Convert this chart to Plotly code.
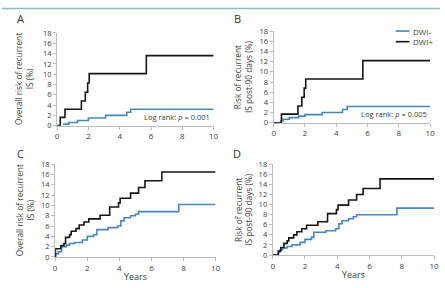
import plotly.graph_objects as go

# Panel A: overall risk (years, %)
a_pos_t = [0, 0.2, 0.5, 1.55, 1.8, 1.95, 2.05, 5.7, 10]
a_pos_y = [0, 1.6, 3.2, 4.8, 6.5, 8.3, 10.1, 13.6, 13.6]
a_neg_t = [0.38, 0.75, 1.3, 2.0, 3.1, 4.45, 4.7, 10]
a_neg_y = [0.3, 0.6, 1.0, 1.5, 2.0, 2.6, 3.2, 3.2]

# Panel B: post-90 days
b_pos_t = [0, 0.5, 1.55, 1.8, 1.95, 2.05, 5.7, 10]
b_pos_y = [0, 1.7, 3.3, 5.0, 6.8, 8.6, 12.2, 12.2]
b_neg_t = [0, 0.45, 0.6, 1.0, 1.6, 2.0, 3.1, 4.4, 4.7, 10]
b_neg_y = [0, 0.4, 0.7, 1.0, 1.3, 1.6, 2.0, 2.6, 3.2, 3.2]

# Panel C
c_pos_t = [0, 0.02, 0.35, 0.55, 0.65, 0.9, 1.0, 1.3, 1.5, 1.8, 2.1, 2.8, 3.4, 3.95, 4.05, 4.7, 5.2, 5.6, 6.65, 10]
c_pos_y = [0, 1.6, 2.2, 2.6, 3.8, 4.3, 5.0, 5.5, 6.2, 6.8, 7.4, 8.1, 9.7, 10.5, 11.4, 12.4, 13.5, 14.8, 16.5, 16.5]
c_neg_t = [0, 0.02, 0.2, 0.4, 0.7, 0.9, 1.2, 1.7, 2.0, 2.4, 2.6, 3.3, 3.9, 4.1, 4.3, 4.7, 5.0, 5.2, 7.7, 10]
c_neg_y = [0, 0.6, 1.0, 2.0, 2.3, 2.6, 2.8, 3.3, 4.0, 4.3, 5.3, 5.7, 6.0, 7.0, 7.6, 8.0, 8.3, 8.8, 10.2, 10.2]

# Panel D
d_pos_t = [0, 0.3, 0.35, 0.5, 0.7, 0.9, 1.0, 1.3, 1.5, 1.8, 2.1, 2.8, 3.4, 3.95, 4.05, 4.7, 5.2, 5.6, 6.65, 10]
d_pos_y = [0, 0, 0.8, 1.5, 2.3, 2.8, 3.4, 4.0, 4.6, 5.2, 5.9, 6.6, 8.2, 9.0, 9.9, 10.9, 12.0, 13.2, 15.1, 15.1]
d_neg_t = [0, 0.3, 0.35, 0.45, 0.6, 0.9, 1.2, 1.7, 2.0, 2.4, 2.55, 3.3, 3.9, 4.1, 4.3, 4.7, 5.0, 5.2, 7.7, 10]
d_neg_y = [0, 0, 0.6, 1.0, 1.4, 1.7, 2.0, 2.5, 3.1, 3.5, 4.5, 4.8, 5.2, 6.2, 6.8, 7.2, 7.6, 8.0, 9.3, 9.3]

x_ticks = [0, 2, 4, 6, 8, 10]
y_ticks = [0, 2, 4, 6, 8, 10, 12, 14, 16, 18]
panel_letters = ["A", "B", "C", "D"]
y_titles = ["Overall risk of recurrent<br>IS (%)", "Risk of recurrent<br>IS post-90 days (%)",
            "Overall risk of recurrent<br>IS (%)", "Risk of recurrent<br>IS post-90 days (%)"]
p_labels = ["Log rank: <i>p</i> = 0.001", "Log rank: <i>p</i> = 0.005"]
series_names = ["DWI-", "DWI+"]

W, H = 445, 288
BLUE = "#4a86b9"
BLACK = "#151515"
FONT = "Open Sans"

# pixel boxes (x0, x1, ytop, ybottom)
boxes = [(56, 215, 29, 125), (276, 435, 27, 122), (54, 217, 165, 261), (275, 439, 165, 259)]

fig = go.Figure()
data = [(a_neg_t, a_neg_y, a_pos_t, a_pos_y), (b_neg_t, b_neg_y, b_pos_t, b_pos_y),
        (c_neg_t, c_neg_y, c_pos_t, c_pos_y), (d_neg_t, d_neg_y, d_pos_t, d_pos_y)]

for i, (nt, ny, pt, py) in enumerate(data):
    idx = "" if i == 0 else str(i + 1)
    fig.add_trace(go.Scatter(x=nt, y=ny, mode="lines", line=dict(color=BLUE, width=1.6, shape="hv"),
                             name=series_names[0], showlegend=False, xaxis="x" + idx, yaxis="y" + idx))
    fig.add_trace(go.Scatter(x=pt, y=py, mode="lines", line=dict(color=BLACK, width=1.6, shape="hv"),
                             name=series_names[1], showlegend=False, xaxis="x" + idx, yaxis="y" + idx))

layout = dict(width=W, height=H, margin=dict(l=0, r=0, t=0, b=0), paper_bgcolor="white",
              plot_bgcolor="white", font=dict(family=FONT, size=8, color="#404040"))
annotations = []
shapes = []
for i, (x0, x1, yt, yb) in enumerate(boxes):
    idx = "" if i == 0 else str(i + 1)
    layout["xaxis" + idx] = dict(domain=[x0 / W, x1 / W], range=[0, 10], tickvals=x_ticks,
                                 showline=True, linecolor="#bdbdbd", linewidth=1, ticks="outside",
                                 ticklen=3, tickcolor="#bdbdbd", showgrid=False, zeroline=False,
                                 anchor="y" + idx, tickfont=dict(size=8, color="#404040"), fixedrange=True)
    layout["yaxis" + idx] = dict(domain=[1 - yb / H, 1 - yt / H], range=[0, 18], tickvals=y_ticks,
                                 showline=True, linecolor="#bdbdbd", linewidth=1, ticks="outside",
                                 ticklen=3, tickcolor="#bdbdbd", showgrid=False, zeroline=False,
                                 anchor="x" + idx, tickfont=dict(size=7.5, color="#404040"), fixedrange=True)
    lx = 19 if i % 2 == 0 else 239
    ly = 14 if i < 2 else 154
    annotations.append(dict(text=panel_letters[i], x=lx / W, y=1 - ly / H, xref="paper", yref="paper",
                            showarrow=False, font=dict(size=11, color="#333333"), xanchor="center", yanchor="middle"))
    tx = 23 if i % 2 == 0 else 245
    annotations.append(dict(text=y_titles[i], x=tx / W, y=1 - (yt + yb) / 2 / H, xref="paper", yref="paper",
                            showarrow=False, textangle=-90, font=dict(size=8.3, color="#404040"),
                            xanchor="center", yanchor="middle"))
    if i < 2:
        annotations.append(dict(text=p_labels[i], x=9.9, y=0.4, xref="x" + idx, yref="y" + idx,
                                showarrow=False, xanchor="right", yanchor="bottom",
                                font=dict(size=7.5, color="#404040")))
    else:
        annotations.append(dict(text="Years", x=5, y=1 - (yb + 20) / H, xref="x" + idx, yref="paper",
                                showarrow=False, xanchor="center", yanchor="middle",
                                font=dict(size=9, color="#404040")))

# legend in panel B
for j, (name, col) in enumerate(zip(series_names, [BLUE, BLACK])):
    yy = 1 - (27 + 11 * j) / H
    shapes.append(dict(type="line", xref="paper", yref="paper", x0=400 / W, x1=414 / W, y0=yy, y1=yy,
                       line=dict(color=col, width=1.6)))
    annotations.append(dict(text=name, x=416 / W, y=yy, xref="paper", yref="paper", showarrow=False,
                            xanchor="left", yanchor="middle", font=dict(size=8, color="#404040")))

# top teal rule
shapes.append(dict(type="line", xref="paper", yref="paper", x0=0, x1=1, y0=1 - 3.5 / H, y1=1 - 3.5 / H,
                   line=dict(color="#8dbdbd", width=1.5)))

layout["annotations"] = annotations
layout["shapes"] = shapes
fig.update_layout(**layout)
fig.write_html("out.html")
